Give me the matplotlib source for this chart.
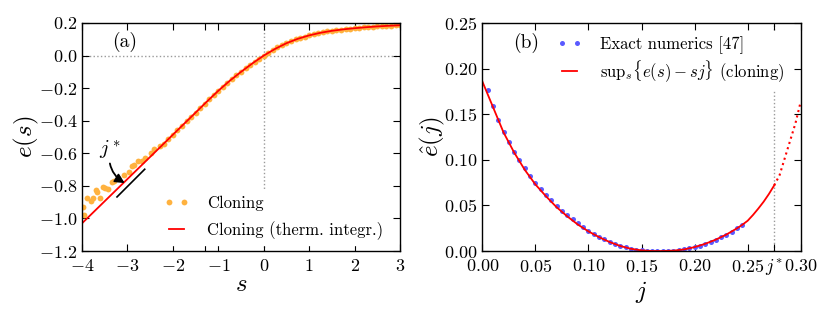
import matplotlib.pyplot as plt

plt.rcParams['font.family'] = 'serif'
plt.rcParams['font.serif'] = ['cmr10', 'DejaVu Serif']
plt.rcParams['mathtext.fontset'] = 'cm'
plt.rcParams['axes.formatter.use_mathtext'] = True
plt.rcParams['axes.unicode_minus'] = True

# ---------- data (a): e(s) ----------
# thermodynamic integration (red line)
s_line = [-4.0, -3.75, -3.5, -3.25, -3.0, -2.75, -2.5, -2.25, -2.0, -1.75, -1.5,
          -1.25, -1.0, -0.75, -0.5, -0.25, 0.0, 0.25, 0.5, 0.75, 1.0, 1.25, 1.5,
          1.75, 2.0, 2.25, 2.5, 2.75, 3.0]
e_line = [-1.030, -0.962, -0.894, -0.826, -0.758, -0.690, -0.622, -0.554, -0.486,
          -0.418, -0.350, -0.282, -0.216, -0.155, -0.100, -0.048, 0.000, 0.041,
          0.076, 0.103, 0.124, 0.140, 0.152, 0.161, 0.168, 0.174, 0.179, 0.183, 0.186]

# cloning (orange dots)
s_clone = [-3.985, -3.956, -3.897, -3.808, -3.751, -3.698, -3.663, -3.604, -3.544,
           -3.494, -3.434, -3.346, -3.289, -3.21, -3.069, -2.959, -2.906, -2.849,
           -2.761, -2.686, -2.613, -2.488, -2.415, -2.283,
           -2.2, -2.1, -2.0, -1.9, -1.8, -1.7, -1.6, -1.5, -1.4, -1.3, -1.2, -1.1,
           -1.0, -0.9, -0.8, -0.7, -0.6, -0.5, -0.4, -0.3, -0.2, -0.1, 0.0, 0.1,
           0.2, 0.3, 0.4, 0.5, 0.6, 0.7, 0.8, 0.9, 1.0, 1.1, 1.2, 1.3, 1.4, 1.5,
           1.6, 1.7, 1.8, 1.9, 2.0, 2.1, 2.2, 2.3, 2.4, 2.5, 2.6, 2.7, 2.8, 2.9, 3.0]
e_clone = [-0.929, -0.980, -0.877, -0.892, -0.877, -0.826, -0.840, -0.877, -0.810,
           -0.816, -0.822, -0.775, -0.771, -0.750, -0.734, -0.714, -0.679, -0.673,
           -0.648, -0.646, -0.626, -0.597, -0.576, -0.556,
           -0.541, -0.513, -0.486, -0.459, -0.432, -0.404, -0.377, -0.350, -0.323,
           -0.296, -0.269, -0.242, -0.216, -0.191, -0.167, -0.143, -0.121, -0.100,
           -0.079, -0.058, -0.038, -0.019, 0.000, 0.018, 0.035, 0.050, 0.064, 0.077,
           0.089, 0.099, 0.109, 0.117, 0.125, 0.132, 0.138, 0.144, 0.149, 0.153,
           0.157, 0.160, 0.163, 0.166, 0.169, 0.171, 0.174, 0.176, 0.178, 0.180,
           0.181, 0.183, 0.184, 0.186, 0.187]

# tangent of slope j* (black segment)
tangent_s = [-3.23, -2.62]
tangent_e = [-0.868, -0.698]

# ---------- data (b): e^(j) ----------
j_exact = [0.005, 0.010, 0.015, 0.020, 0.025, 0.030, 0.035, 0.040, 0.045, 0.050,
           0.055, 0.060, 0.065, 0.070, 0.075, 0.080, 0.085, 0.090, 0.095, 0.100,
           0.105, 0.110, 0.115, 0.120, 0.125, 0.130, 0.135, 0.140, 0.145, 0.150,
           0.155, 0.160, 0.165, 0.170, 0.175, 0.180, 0.185, 0.190, 0.195, 0.200,
           0.205, 0.210, 0.215, 0.220, 0.225, 0.230, 0.235, 0.240, 0.245]
e_exact = [0.176, 0.159, 0.144, 0.131, 0.120, 0.109, 0.0995, 0.0905, 0.0825, 0.0748,
           0.0680, 0.0614, 0.0554, 0.0497, 0.0442, 0.0393, 0.0346, 0.0302, 0.0262,
           0.0224, 0.0189, 0.0158, 0.0129, 0.0102, 0.0078, 0.0057, 0.0040, 0.0026,
           0.0015, 0.0008, 0.0003, 0.0001, 0.0000, 0.0000, 0.0001, 0.0004, 0.0009,
           0.0017, 0.0028, 0.0042, 0.0058, 0.0078, 0.0100, 0.0124, 0.0151, 0.0180,
           0.0212, 0.0247, 0.0285]

j_sup = [0.000, 0.010, 0.020, 0.030, 0.040, 0.050, 0.060, 0.070, 0.080, 0.090,
         0.100, 0.110, 0.120, 0.130, 0.140, 0.150, 0.160, 0.170, 0.180, 0.190,
         0.200, 0.210, 0.220, 0.230, 0.240, 0.245, 0.250, 0.255, 0.260, 0.265,
         0.270, 0.275]
e_sup = [0.186, 0.158, 0.130, 0.108, 0.089, 0.073, 0.060, 0.048, 0.038, 0.029,
         0.0215, 0.0152, 0.0098, 0.0055, 0.0024, 0.0007, 0.0000, 0.0000, 0.0004,
         0.0017, 0.0043, 0.0079, 0.0125, 0.0181, 0.0249, 0.0288, 0.0332, 0.0395,
         0.0465, 0.0540, 0.0625, 0.0720]

j_sup_ext = [0.275, 0.280, 0.285, 0.290, 0.295, 0.300]
e_sup_ext = [0.0720, 0.083, 0.102, 0.121, 0.140, 0.164]

j_star = 0.275

x_ticks_b = [0.0, 0.05, 0.10, 0.15, 0.20, 0.25, j_star, 0.30]
x_ticklabels_b = ['$0.00$', '$0.05$', '$0.10$', '$0.15$', '$0.20$', '$0.25$',
                  '$j^{\\!*}$', '$0.30$']
y_ticks_b = [0.0, 0.05, 0.10, 0.15, 0.20, 0.25]
y_ticklabels_b = ['$0.00$', '$0.05$', '$0.10$', '$0.15$', '$0.20$', '$0.25$']

ORANGE = '#ffb23f'
BLUE = '#5a5aff'
RED = '#ff0000'
GRAY = '#9a9a9a'

fig = plt.figure(figsize=(8.31, 3.12), dpi=100)
ax1 = fig.add_axes([0.0987, 0.1955, 0.3827, 0.7308])
ax2 = fig.add_axes([0.5804, 0.1955, 0.3832, 0.7308])

# ---------- (a) ----------
ax1.axhline(0, color=GRAY, ls=':', lw=1, zorder=0)
ax1.axvline(0, color=GRAY, ls=':', lw=1, zorder=0)
ax1.plot(s_clone, e_clone, 'o', color=ORANGE, ms=4.2, mew=0, label='Cloning')
ax1.plot(s_line, e_line, '-', color=RED, lw=1.3, label='Cloning (therm. integr.)')
ax1.plot(tangent_s, tangent_e, '-', color='k', lw=1.2)
ax1.annotate('$j^*$', xy=(-3.06, -0.783), xytext=(-3.38, -0.575),
             fontsize=15, ha='center', va='center',
             arrowprops=dict(arrowstyle='-|>', connectionstyle='arc3,rad=0.35',
                             color='k', lw=1.3, mutation_scale=14,
                             shrinkA=0, shrinkB=0))
ax1.text(0.135, 0.917, '(a)', transform=ax1.transAxes, fontsize=14,
         ha='center', va='center')
ax1.set_xlim(-4, 3)
ax1.set_ylim(-1.2, 0.2)
ax1.set_xticks([-4, -3, -2, -1, 0, 1, 2, 3])
ax1.set_xticks([-1.29], minor=True)
ax1.set_yticks([-1.2, -1.0, -0.8, -0.6, -0.4, -0.2, 0.0, 0.2])
ax1.yaxis.set_major_formatter(plt.FormatStrFormatter('$%.1f$'))
ax1.xaxis.set_major_formatter(plt.FormatStrFormatter('$%d$'))
ax1.set_xlabel('$s$', fontsize=18, labelpad=0)
ax1.set_ylabel('$e(s)$', fontsize=18, labelpad=-2)
leg1 = ax1.legend(loc='lower right', bbox_to_anchor=(0.99, -0.01), numpoints=2,
                  fontsize=12, handlelength=1.5, handletextpad=1.1,
                  labelspacing=0.6, borderpad=0.3, fancybox=False)
leg1.get_frame().set_edgecolor('white')
leg1.get_frame().set_alpha(1)

# ---------- (b) ----------
ax2.axvline(j_star, color=GRAY, ls=':', lw=1, zorder=0)
ax2.plot(j_exact, e_exact, 'o', color=BLUE, ms=3.6, mew=0,
         label='Exact numerics [47]')
ax2.plot(j_sup, e_sup, '-', color=RED, lw=1.3,
         label=r'$\mathrm{sup}_s\{e(s)-sj\}$ (cloning)')
ax2.plot(j_sup_ext, e_sup_ext, ':', color=RED, lw=1.5)
ax2.text(0.139, 0.912, '(b)', transform=ax2.transAxes, fontsize=14,
         ha='center', va='center')
ax2.set_xlim(0, 0.30)
ax2.set_ylim(0, 0.25)
ax2.set_xticks(x_ticks_b, x_ticklabels_b)
ax2.set_yticks(y_ticks_b, y_ticklabels_b)
ax2.set_xlabel('$j$', fontsize=18, labelpad=0)
ax2.set_ylabel(r'$\hat{e}(j)$', fontsize=18, labelpad=-2)
leg2 = ax2.legend(loc='upper right', bbox_to_anchor=(0.99, 1.0), numpoints=2,
                  fontsize=12, handlelength=1.5, handletextpad=1.1,
                  labelspacing=0.25, borderpad=0.3, fancybox=False)
leg2.get_frame().set_edgecolor('white')
leg2.get_frame().set_alpha(1)

for ax in (ax1, ax2):
    ax.tick_params(which='both', direction='in', top=True, right=True,
                   length=5, width=0.8, labelsize=13)
    ax.tick_params(axis='x', pad=5)
    ax.tick_params(axis='y', pad=3.5)
    for sp in ax.spines.values():
        sp.set_linewidth(1.0)

fig.savefig('out.png', dpi=100)
